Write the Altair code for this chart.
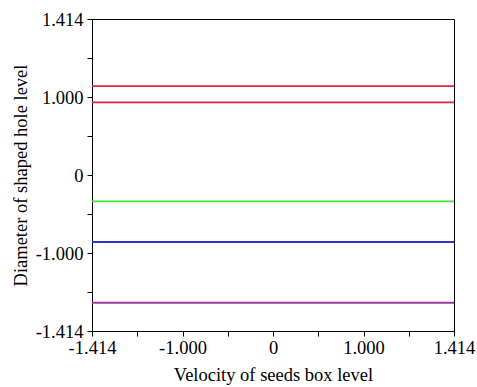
import altair as alt
import pandas as pd

# Coded factor levels shown on both axes (evenly spaced positions)
x_levels = [-1.414, -1.0, 0.0, 1.0, 1.414]
y_levels = [-1.414, -1.0, 0.0, 1.0, 1.414]
# Minor ticks halfway between the level positions
x_minor = [-1.207, -0.5, 0.5, 1.207]
y_minor = [-1.207, -0.5, 0.5, 1.207]

# Horizontal contour levels (diameter of shaped hole level)
line_values = [1.058, 0.932, -0.337, -0.859, -1.264]
line_colors = ["#d42a3a", "#d42a3a", "#3ce63c", "#2a34c8", "#9a3a9a"]

W, H = 362, 312

df = pd.DataFrame({
    "y": line_values,
    "color": line_colors,
    "x0": [x_levels[0]] * len(line_values),
    "x1": [x_levels[-1]] * len(line_values),
    "id": list(range(len(line_values))),
})

n = len(x_levels) - 1
x_scale = alt.Scale(domain=x_levels, range=[W * i / n for i in range(n + 1)])
y_scale = alt.Scale(domain=y_levels, range=[H * (n - i) / n for i in range(n + 1)])

minor_list = "[" + ",".join(str(v) for v in x_minor) + "]"
label_expr = (
    f"indexof({minor_list}, datum.value) >= 0 ? '' : "
    "(datum.value == 0 ? '0' : replace(format(datum.value, '.3f'), '\u2212', '-'))"
)

axis_common = dict(
    labelExpr=label_expr,
    labelFont="Liberation Serif",
    labelFontSize=18.5,
    labelColor="black",
    titleFont="Liberation Serif",
    titleFontSize=18.5,
    titleFontWeight="normal",
    titleColor="black",
    domainColor="black",
    tickColor="black",
    tickSize=5,
    grid=False,
    labelOverlap=False,
    labelFlush=False,
)

chart = alt.Chart(df).mark_rule(strokeWidth=1.8).encode(
    x=alt.X("x0:Q", scale=x_scale,
            axis=alt.Axis(title="Velocity of seeds box level",
                          values=sorted(x_levels + x_minor),
                          labelPadding=2, titlePadding=9, **axis_common)),
    x2="x1:Q",
    y=alt.Y("y:Q", scale=y_scale,
            axis=alt.Axis(title="Diameter of shaped hole level",
                          values=sorted(y_levels + y_minor),
                          labelPadding=4, titlePadding=5, **axis_common)),
    color=alt.Color("color:N", scale=None),
    detail="id:N",
).properties(
    width=W,
    height=H,
    autosize=alt.AutoSizeParams(type="none"),
    padding={"left": 92, "top": 19, "right": 23, "bottom": 56},
    background="white",
).configure_view(
    stroke="black",
    strokeWidth=1,
)

chart.save("out.html", embed_options={"renderer": "svg", "actions": False})
